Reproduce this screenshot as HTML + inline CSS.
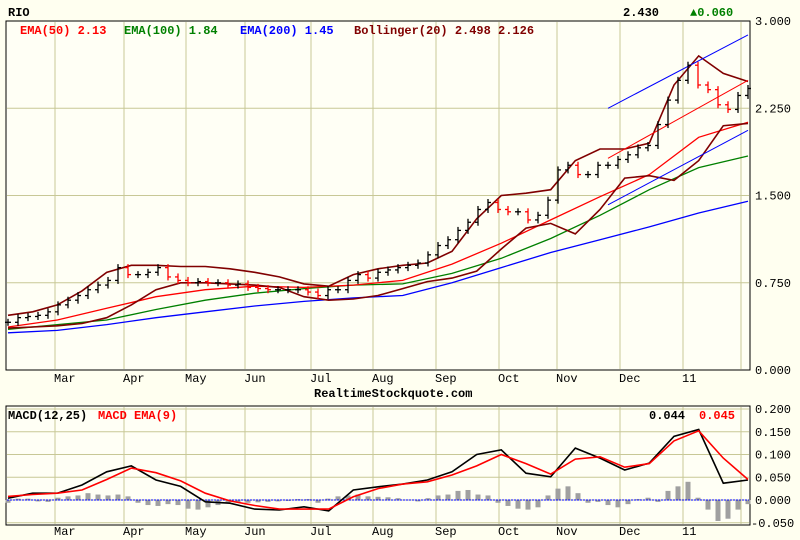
<!DOCTYPE html>
<html><head><meta charset="utf-8"><style>
body{margin:0;background:#FFFFF0;}
svg{display:block;font-family:"Liberation Mono",monospace;font-size:12px;font-weight:bold;}
</style></head><body>
<svg id="c" width="800" height="540">
<rect x="0" y="0" width="800" height="540" fill="#FFFFF0"/>
<g id="grid"></g>
<g id="main"></g>
<g id="macd"></g>
<text x="8" y="16" fill="#000">RIO</text>
<text x="623" y="16" fill="#000">2.430</text>
<text x="690" y="16" fill="#008000">▲0.060</text>
<text x="20" y="34" fill="#ff0000">EMA(50) 2.13</text>
<text x="124" y="34" fill="#008000">EMA(100) 1.84</text>
<text x="240" y="34" fill="#0000ff">EMA(200) 1.45</text>
<text x="354" y="34" fill="#800000">Bollinger(20) 2.498 2.126</text>
<text x="314" y="397" fill="#000">RealtimeStockquote.com</text>
<text x="8" y="419" fill="#000">MACD(12,25)</text>
<text x="98" y="419" fill="#ff0000">MACD EMA(9)</text>
<text x="649" y="419" fill="#000">0.044</text>
<text x="699" y="419" fill="#ff0000">0.045</text>
</svg>
<script>
const months=["Mar","Apr","May","Jun","Jul","Aug","Sep","Oct","Nov","Dec","11"];
const monthX=[55,124,186,245,311,373,436,499,557,620,683];
const priceTicks=[0,0.75,1.5,2.25,3.0];
const macdTicks=[-0.05,0,0.05,0.1,0.15,0.2];
const closes=[0.41,0.45,0.46,0.47,0.50,0.56,0.60,0.64,0.69,0.73,0.77,0.88,0.82,0.82,0.84,0.88,0.80,0.77,0.75,0.76,0.75,0.75,0.73,0.74,0.71,0.70,0.69,0.69,0.69,0.69,0.67,0.64,0.69,0.69,0.77,0.82,0.79,0.84,0.86,0.88,0.90,0.92,0.99,1.07,1.12,1.20,1.27,1.38,1.44,1.38,1.36,1.36,1.29,1.33,1.46,1.72,1.76,1.68,1.68,1.76,1.76,1.81,1.85,1.91,1.93,2.11,2.32,2.49,2.62,2.45,2.41,2.28,2.24,2.36,2.42];
const ema50=[0.37,0.43,0.53,0.63,0.69,0.72,0.71,0.73,0.77,0.91,1.09,1.29,1.49,1.68,2.0,2.13];
const ema100=[0.35,0.39,0.43,0.52,0.60,0.66,0.70,0.73,0.74,0.83,0.96,1.13,1.33,1.55,1.74,1.84];
const ema200=[0.32,0.34,0.39,0.45,0.50,0.55,0.59,0.62,0.64,0.75,0.88,1.01,1.12,1.23,1.35,1.45];
const bbUpper=[0.47,0.50,0.56,0.68,0.84,0.90,0.90,0.89,0.89,0.87,0.84,0.80,0.74,0.72,0.82,0.87,0.90,0.92,1.02,1.30,1.50,1.52,1.55,1.80,1.90,1.90,1.95,2.45,2.70,2.55,2.48];
const bbLower=[0.36,0.37,0.38,0.40,0.45,0.56,0.69,0.75,0.75,0.74,0.73,0.71,0.63,0.60,0.61,0.64,0.70,0.76,0.79,0.85,1.04,1.22,1.26,1.17,1.38,1.65,1.67,1.63,1.80,2.10,2.12];
const macdVals=[0.004,0.015,0.015,0.033,0.062,0.075,0.044,0.03,-0.004,-0.007,-0.02,-0.022,-0.015,-0.024,0.022,0.029,0.035,0.044,0.062,0.10,0.11,0.059,0.051,0.114,0.092,0.066,0.081,0.14,0.155,0.037,0.044];
const signalVals=[0.008,0.012,0.015,0.022,0.045,0.07,0.06,0.042,0.015,-0.002,-0.012,-0.02,-0.02,-0.02,0.007,0.025,0.035,0.04,0.055,0.075,0.10,0.08,0.057,0.09,0.095,0.072,0.08,0.13,0.152,0.092,0.045];
const histVals=[-0.005,0.003,0.003,-0.002,-0.003,0.005,0.008,0.01,0.015,0.012,0.01,0.012,0.008,-0.005,-0.01,-0.012,-0.008,-0.01,-0.018,-0.02,-0.015,-0.01,-0.006,-0.004,-0.005,-0.004,-0.003,-0.002,-0.001,0.002,0.002,-0.005,0.003,0.008,0.01,0.012,0.008,0.007,0.006,0.004,0.001,-0.002,0.004,0.01,0.012,0.02,0.022,0.012,0.01,-0.005,-0.012,-0.018,-0.02,-0.015,0.01,0.025,0.03,0.015,-0.005,-0.003,-0.01,-0.015,-0.008,0.002,0.005,-0.003,0.02,0.03,0.04,0.005,-0.02,-0.045,-0.04,-0.02,-0.008];
const channelUpper=[[0,2.25],[1,2.88]];
const channelMid=[[0,1.82],[1,2.49]];
const channelLower=[[0,1.42],[1,2.06]];

const NS="http://www.w3.org/2000/svg";
const X0=6,X1=750,PX0=8,PX1=748;
const yP=v=>370-v*116.33;
const yM=v=>500-v*455;
const xAt=(i,n)=>PX0+(PX1-PX0)*i/(n-1);
function mk(tag,attrs,parent){const e=document.createElementNS(NS,tag);for(const k in attrs)e.setAttribute(k,attrs[k]);parent.appendChild(e);return e;}
const grid=document.getElementById('grid'),main=document.getElementById('main'),macd=document.getElementById('macd');
let r=mk('rect',{x:X0,y:21,width:X1-X0,height:349,fill:'#FFFFF5',stroke:'#000'},grid);


r=mk('rect',{x:X0,y:406,width:X1-X0,height:119,fill:'#FFFFF5',stroke:'#000'},grid);


monthX.forEach((x,i)=>{
 let l=mk('line',{x1:x,x2:x,y1:22,y2:369,stroke:'#C8C896'},grid);
 
 
 l=mk('line',{x1:x,x2:x,y1:407,y2:524,stroke:'#C8C896'},grid);
 
 
 [382,535].forEach(yy=>{const t=mk('text',{x:x-1,y:yy,fill:'#000','font-weight':'normal'},grid);t.textContent=months[i];
 
 });
});
let gl=mk('line',{x1:741,x2:741,y1:22,y2:369,stroke:'#C8C896'},grid);


gl=mk('line',{x1:741,x2:741,y1:407,y2:524,stroke:'#C8C896'},grid);


priceTicks.forEach(v=>{
 if(v>0&&v<3){const l=mk('line',{x1:X0+1,x2:X1-1,y1:yP(v),y2:yP(v),stroke:'#C8C896'},grid);
 
 }
 const t=mk('text',{x:755,y:yP(v)+4,fill:'#000','font-weight':'normal'},grid);t.textContent=v.toFixed(3);
 
 
});
macdTicks.forEach(v=>{
 const l=mk('line',{x1:X0+1,x2:X1-1,y1:yM(v),y2:yM(v),stroke:'#C8C896'},grid);
 
 
 const t=mk('text',{x:v<0?751:755,y:yM(v)+4,fill:'#000','font-weight':'normal'},grid);t.textContent=v.toFixed(3);
 
 
});
function poly(arr,yf,color,name,parent,w){
 const pts=arr.map((v,i)=>xAt(i,arr.length).toFixed(1)+','+yf(v).toFixed(1)).join(' ');
 const p=mk('polyline',{points:pts,fill:'none',stroke:color,'stroke-width':w||1.3},parent);
 
 
}
poly(ema200,yP,'#0000ff','ema200-line',main);
poly(ema100,yP,'#008000','ema100-line',main);
poly(ema50,yP,'#ff0000','ema50-line',main);
poly(bbUpper,yP,'#800000','bollinger-upper',main,1.6);
poly(bbLower,yP,'#800000','bollinger-lower',main,1.6);
function chan(c,color,name){
 const xs=[608,748];
 const l=mk('line',{x1:xs[0],x2:xs[1],y1:yP(c[0][1]),y2:yP(c[1][1]),stroke:color,'stroke-width':1},main);
 
 
}
chan(channelUpper,'#0000ff','channel-upper');
chan(channelMid,'#ff0000','channel-mid');
chan(channelLower,'#0000ff','channel-lower');
closes.forEach((c,i)=>{
 const o=i?closes[i-1]:c, x=xAt(i,closes.length);
 const hi=Math.max(o,c)+0.03, lo=Math.min(o,c)-0.03;
 const col=c<o?'#ff0000':'#000';
 const g=mk('g',{stroke:col,'stroke-width':1.3},main);
 
 
 mk('line',{x1:x,x2:x,y1:yP(hi),y2:yP(lo)},g);
 mk('line',{x1:x-3,x2:x,y1:yP(o),y2:yP(o)},g);
 mk('line',{x1:x,x2:x+3,y1:yP(c),y2:yP(c)},g);
});
histVals.forEach((d,i)=>{
 const x=xAt(i,histVals.length);
 const b=mk('rect',{x:x-2.5,y:Math.min(yM(0),yM(d)),width:5,height:Math.abs(yM(d)-yM(0))+0.5,fill:'#a0a0a0'},macd);
 
 
});
const z=mk('line',{x1:X0+1,x2:X1-1,y1:yM(0),y2:yM(0),stroke:'#0000ff','stroke-dasharray':'2,1'},macd);


poly(macdVals,yM,'#000','macd-line',macd,1.6);
poly(signalVals,yM,'#ff0000','macd-signal-line',macd,1.6);
</script>
</body></html>
